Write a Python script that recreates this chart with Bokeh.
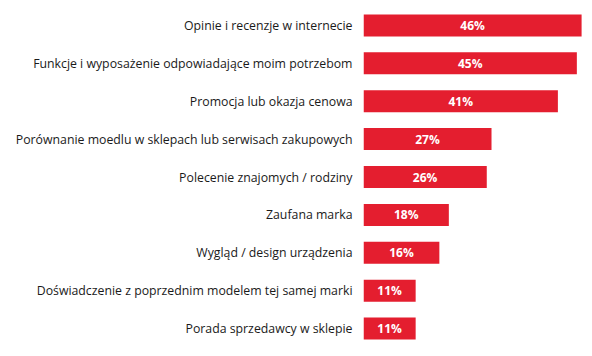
from bokeh.plotting import figure
from bokeh.models import ColumnDataSource, FactorRange, Range1d
from bokeh.core.properties import value
from bokeh.embed import file_html
from bokeh.resources import INLINE

categories = [
    "Opinie i recenzje w internecie",
    "Funkcje i wyposażenie odpowiadające moim potrzebom",
    "Promocja lub okazja cenowa",
    "Porównanie moedlu w sklepach lub serwisach zakupowych",
    "Polecenie znajomych / rodziny",
    "Zaufana marka",
    "Wygląd / design urządzenia",
    "Doświadczenie z poprzednim modelem tej samej marki",
    "Porada sprzedawcy w sklepie",
]
values = [46, 45, 41, 27, 26, 18, 16, 11, 11]
labels = [f"{v}%" for v in values]

src = ColumnDataSource(dict(cat=categories, val=values, mid=[v / 2 for v in values], lab=labels))

p = figure(
    width=592, height=356,
    y_range=FactorRange(*categories[::-1], range_padding=0),
    x_range=Range1d(0, 48.3),
    output_backend="svg", toolbar_location=None,
    x_axis_location=None,
    min_border_left=363, min_border_right=0, min_border_top=6, min_border_bottom=9,
)
p.hbar(y="cat", right="val", left=0, height=0.58, source=src, color="#E41E2F", line_color=None)
p.text(x="mid", y="cat", text="lab", source=src, text_align="center", text_baseline="middle",
       text_color="white", text_font=value("Open Sans"), text_font_style="bold", text_font_size="12px")

p.yaxis.axis_line_color = None
p.yaxis.major_tick_line_color = None
p.yaxis.minor_tick_line_color = None
p.yaxis.major_tick_out = 0
p.yaxis.major_label_standoff = 11
p.yaxis.major_label_text_font = "Open Sans"
p.yaxis.major_label_text_font_size = "12.3px"
p.yaxis.major_label_text_color = "#1a1a1a"
p.xgrid.visible = False
p.ygrid.visible = False
p.outline_line_color = None
p.background_fill_color = "white"
p.border_fill_color = "white"

open("out.html", "w").write(file_html(p, INLINE))
